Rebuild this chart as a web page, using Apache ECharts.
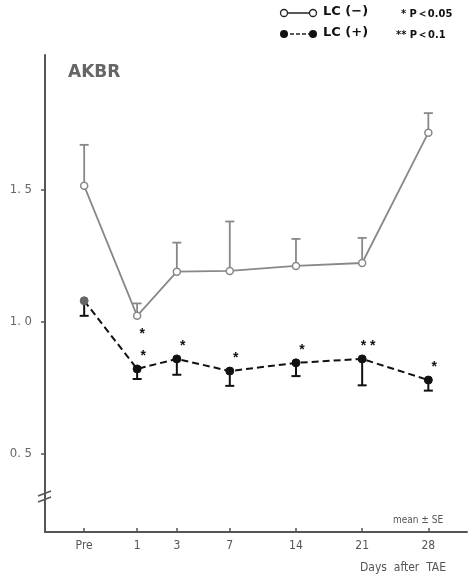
<!DOCTYPE html>
<html>
<head>
<meta charset="utf-8">
<script src="https://cdn.jsdelivr.net/npm/echarts@6.0.0/dist/echarts.min.js"></script>
<style>
  html, body { margin: 0; padding: 0; background: #fff; }
  #chart { width: 472px; height: 579px; }
</style>
</head>
<body>
<div id="chart"></div>
<script>
// categories and their (uneven) slots on the x axis
const categories = ['Pre', '1', '3', '7', '14', '21', '28'];
const xSlots = [0, 1, 1.75, 2.75, 4, 5.25, 6.5];

// LC(-) : mean, SE (drawn upward)
const lcMinusMean = [1.515, 1.023, 1.19, 1.193, 1.212, 1.223, 1.716];
const lcMinusSE = [0.155, 0.047, 0.11, 0.187, 0.102, 0.095, 0.074];
// LC(+) : mean, SE (drawn downward)
const lcPlusMean = [1.08, 0.822, 0.86, 0.814, 0.845, 0.86, 0.78];
const lcPlusSE = [0.057, 0.038, 0.06, 0.056, 0.05, 0.1, 0.04];

// significance marks
const sigMinus = ['', '*', '', '', '', '', ''];
const sigPlus = ['', '*', '*', '*', '*', '* *', '*'];

const yTicks = [0.5, 1.0, 1.5];

const chart = echarts.init(document.getElementById('chart'));

// error bar drawer, dir = 1 up, -1 down
function errorBar(color, dir, width) {
  return function (params, api) {
    const x = api.value(0), y = api.value(1), e = api.value(2);
    const p0 = api.coord([x, y]);
    const p1 = api.coord([x, y + dir * e]);
    const style = { stroke: color, lineWidth: width };
    return {
      type: 'group',
      children: [
        { type: 'line', shape: { x1: p0[0], y1: p0[1], x2: p1[0], y2: p1[1] }, style: style },
        { type: 'line', shape: { x1: p1[0] - 4.5, y1: p1[1], x2: p1[0] + 4.5, y2: p1[1] }, style: style }
      ]
    };
  };
}

const minusPts = xSlots.map((x, i) => [x, lcMinusMean[i]]);
const plusPts = xSlots.map((x, i) => {
  const item = { value: [x, lcPlusMean[i]] };
  if (i === 0) item.itemStyle = { color: '#666', borderColor: '#666' };
  return item;
});

const option = {
  animation: false,
  grid: { left: 45, right: 5, top: 55, bottom: 47 },
  xAxis: {
    type: 'value',
    min: -0.74,
    max: 7.23,
    splitLine: { show: false },
    axisLine: { onZero: false, lineStyle: { color: '#555', width: 2 } },
    axisTick: { show: true, customValues: xSlots, length: 4, inside: true, lineStyle: { color: '#555', width: 1.5 } },
    axisLabel: {
      customValues: xSlots,
      formatter: v => categories[xSlots.indexOf(v)],
      color: '#555',
      fontSize: 12,
      fontFamily: 'DejaVu Sans Condensed',
      margin: 8
    }
  },
  yAxis: {
    type: 'value',
    min: 0.205,
    max: 2.01,
    splitLine: { show: false },
    axisLine: { show: true, onZero: false, lineStyle: { color: '#555', width: 2 } },
    axisTick: { show: true, customValues: yTicks, length: 4, lineStyle: { color: '#555', width: 1.5 } },
    axisLabel: {
      customValues: yTicks,
      formatter: v => v.toFixed(1).replace('.', '. '),
      color: '#666',
      fontSize: 13,
      fontFamily: 'DejaVu Sans Condensed',
      margin: 13
    }
  },
  series: [
    {
      type: 'custom',
      renderItem: errorBar('#888', 1, 1.8),
      data: xSlots.map((x, i) => [x, lcMinusMean[i], lcMinusSE[i]]),
      z: 1
    },
    {
      type: 'custom',
      renderItem: errorBar('#111', -1, 2),
      data: xSlots.map((x, i) => [x, lcPlusMean[i], lcPlusSE[i]]),
      z: 1
    },
    {
      name: 'LC(-)',
      type: 'line',
      data: minusPts,
      symbol: 'circle',
      symbolSize: 7,
      lineStyle: { color: '#888', width: 1.8 },
      itemStyle: { color: '#fff', borderColor: '#888', borderWidth: 1.5 },
      label: {
        show: true,
        formatter: p => sigMinus[p.dataIndex],
        position: 'bottom',
        offset: [5, 2],
        color: '#111',
        fontSize: 14,
        fontWeight: 'bold'
      },
      z: 3
    },
    {
      name: 'LC(+)',
      type: 'line',
      data: plusPts,
      symbol: 'circle',
      symbolSize: 8,
      lineStyle: { color: '#111', width: 2, type: [7, 4] },
      itemStyle: { color: '#111', borderColor: '#111' },
      label: {
        show: true,
        formatter: p => sigPlus[p.dataIndex],
        position: 'top',
        offset: [6, 4],
        color: '#111',
        fontSize: 14,
        fontWeight: 'bold'
      },
      z: 3
    }
  ],
  graphic: [
    // legend row 1
    { type: 'line', shape: { x1: 284, y1: 13, x2: 312, y2: 13 }, style: { stroke: '#222', lineWidth: 1.5 } },
    { type: 'circle', shape: { cx: 284, cy: 13, r: 3.5 }, style: { fill: '#fff', stroke: '#222', lineWidth: 1.3 } },
    { type: 'circle', shape: { cx: 313, cy: 13, r: 3.5 }, style: { fill: '#fff', stroke: '#222', lineWidth: 1.3 } },
    { type: 'text', left: 323, top: 5, style: { text: 'LC (−)', font: 'bold 13px "DejaVu Sans"', fill: '#111' } },
    { type: 'text', left: 401, top: 9, style: { text: '* P＜0.05', font: 'bold 11px "DejaVu Sans Condensed"', fill: '#111' } },
    // legend row 2
    { type: 'line', shape: { x1: 284, y1: 34, x2: 313, y2: 34 }, style: { stroke: '#222', lineWidth: 1.5, lineDash: [4, 2] } },
    { type: 'circle', shape: { cx: 284, cy: 34, r: 4 }, style: { fill: '#111' } },
    { type: 'circle', shape: { cx: 313, cy: 34, r: 4 }, style: { fill: '#111' } },
    { type: 'text', left: 323, top: 26, style: { text: 'LC (+)', font: 'bold 13px "DejaVu Sans"', fill: '#111' } },
    { type: 'text', left: 396, top: 30, style: { text: '** P＜0.1', font: 'bold 11px "DejaVu Sans Condensed"', fill: '#111' } },
    // panel title
    { type: 'text', left: 68, top: 64, style: { text: 'AKBR', font: 'bold 17px "DejaVu Sans"', fill: '#666' } },
    // mean ± SE note
    { type: 'text', left: 393, top: 515, style: { text: 'mean ± SE', font: '10px "DejaVu Sans Condensed"', fill: '#555' } },
    // x axis name
    { type: 'text', left: 360, top: 562, style: { text: 'Days  after  TAE', font: '12px "DejaVu Sans Condensed"', fill: '#555' } },
    // axis break on the y axis
    { type: 'rect', shape: { x: 40, y: 494, width: 10, height: 6 }, style: { fill: '#fff' } },
    { type: 'line', shape: { x1: 38, y1: 496, x2: 51, y2: 491 }, style: { stroke: '#555', lineWidth: 1.5 } },
    { type: 'line', shape: { x1: 38, y1: 502, x2: 51, y2: 497 }, style: { stroke: '#555', lineWidth: 1.5 } }
  ]
};

chart.setOption(option);
</script>
</body>
</html>
